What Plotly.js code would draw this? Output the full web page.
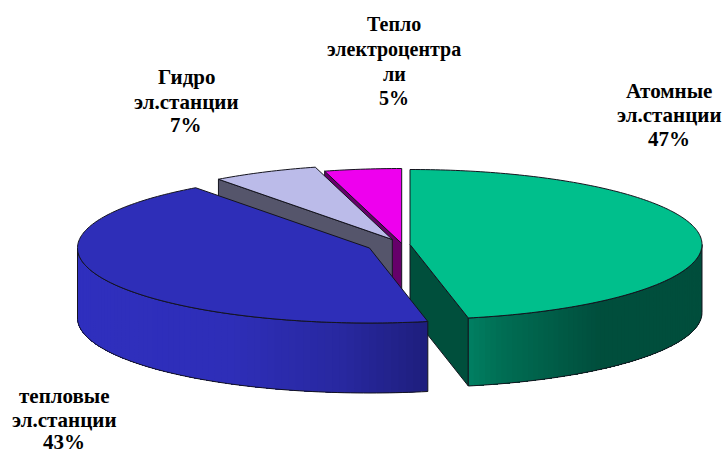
<!DOCTYPE html>
<html>
<head>
<meta charset="utf-8">
<script src="https://cdn.plot.ly/plotly-3.0.1.min.js"></script>
<style>html,body{margin:0;padding:0;background:#fff}#chart{width:724px;height:454px}</style>
</head>
<body>
<div id="chart"></div>
<script>
// Data
const categories = ["Атомные эл.станции", "тепловые эл.станции", "Гидро эл.станции", "Тепло электроцентрали"];
const sliceShares = [46.8, 43.05, 5.9, 4.25];       // drawn angle of each slice, %
const printedPercents = ["47%", "43%", "7%", "5%"]; // printed in the labels
const labelLines = [
  ["Атомные", "эл.станции"],
  ["тепловые", "эл.станции"],
  ["Гидро", "эл.станции"],
  ["Тепло", "электроцентра", "ли"]
];

// View geometry of the tilted pie (in axis units)
const RX = 292, RY = 75;
const centers = [[410, 244.5], [369.5, 248], [392.3, 239.5], [401.7, 243.5]];
const depths = [68, 70, 68, 68];
const topColors = ["#00bf8c", "#2e2eb8", "#bbbbe9", "#ee00ee"];
const wallColors = ["#004f3c", "#2e2eb8", "#55556b", "#66006a"];
const labelX = [669, 64, 186, 394];
const labelY = [[91, 115, 139], [396, 420, 442], [77, 102, 125], [24, 49, 74, 98]];
const labelSize = [21, 21, 21, 20];
const outline = "#14141e";

const rad = d => d * Math.PI / 180;
let acc = 0;
const spans = sliceShares.map(s => { const a = acc; acc += s * 3.6; return [a, acc]; });
const pt = (i, deg) => [centers[i][0] + RX * Math.sin(rad(deg)), centers[i][1] - RY * Math.cos(rad(deg))];
const traces = [];
function poly(pts, fill, lineColor, lineWidth) {
  traces.push({
    type: "scatter", mode: "lines", hoverinfo: "skip", showlegend: false,
    x: pts.map(p => p[0]), y: pts.map(p => p[1]),
    fill: fill ? "toself" : "none", fillcolor: fill || undefined,
    line: {color: lineColor || fill, width: lineWidth === undefined ? 1 : lineWidth, simplify: false}
  });
}
const down = (p, d) => [p[0], p[1] + d];
function arc(i, a, b, n) {
  const out = [];
  for (let k = 0; k <= n; k++) out.push(pt(i, a + (b - a) * k / n));
  return out;
}
function topFace(i) {
  const [a, b] = spans[i];
  const n = Math.max(12, Math.round(b - a));
  const pts = [centers[i]].concat(arc(i, a, b, n), [centers[i]]);
  poly(pts, topColors[i], outline, 1);
}
function edgeWall(i, deg) {
  const c = centers[i], e = pt(i, deg), d = depths[i];
  poly([c, e, down(e, d), down(c, d), c], wallColors[i], outline, 1);
}
function mix(stops, x) {
  for (let k = 0; k < stops.length - 1; k++) {
    const s = stops[k], t = stops[k + 1];
    if (x <= t[0]) {
      const f = Math.max(0, (x - s[0]) / (t[0] - s[0]));
      return "rgb(" + [1, 2, 3].map(j => Math.round(s[j] + (t[j] - s[j]) * f)).join(",") + ")";
    }
  }
  const l = stops[stops.length - 1];
  return "rgb(" + l[1] + "," + l[2] + "," + l[3] + ")";
}
function roundWall(i, a, b, stops) {
  const n = 70, d = depths[i];
  // each band runs to the far end of the wall, so later bands overlap earlier ones and no seams show
  for (let k = 0; k < n; k++) {
    const band = arc(i, a + (b - a) * k / n, b, n - k);
    const col = mix(stops, (band[0][0] + band[1][0]) / 2);
    poly(band.concat(band.map(p => down(p, d)).reverse(), [band[0]]), col, col, 0);
  }
  const top = arc(i, a, b, 80);
  const bottom = top.map(p => down(p, d));
  poly(top.concat(bottom.slice().reverse(), [top[0]]), null, outline, 1);
}

// Painter's order, back to front
edgeWall(3, spans[3][0]);
topFace(3);
edgeWall(2, spans[2][0]);
topFace(2);
edgeWall(0, spans[0][1]);
roundWall(0, 90, spans[0][1], [[468, 0, 128, 98], [500, 0, 110, 84], [600, 0, 78, 60], [702, 0, 78, 60]]);
topFace(0);
roundWall(1, spans[1][0], 270, [[77, 47, 47, 190], [230, 46, 46, 184], [340, 40, 40, 160], [427, 30, 30, 125]]);
topFace(1);

const annotations = [];
categories.forEach((c, i) => {
  labelLines[i].concat(printedPercents[i]).forEach((line, j) => {
    annotations.push({
      x: labelX[i], y: labelY[i][j], xref: "x", yref: "y",
      xanchor: "center", yanchor: "middle", showarrow: false, borderpad: 0,
      text: "<b>" + line + "</b>",
      font: {family: "Liberation Serif, serif", size: labelSize[i], color: "#000"}
    });
  });
});

Plotly.newPlot("chart", traces, {
  width: 724, height: 454,
  margin: {l: 0, r: 0, t: 0, b: 0},
  paper_bgcolor: "#fff", plot_bgcolor: "#fff", showlegend: false,
  xaxis: {range: [0, 724], visible: false, fixedrange: true},
  yaxis: {range: [454, 0], visible: false, fixedrange: true},
  annotations: annotations
}, {displayModeBar: false, staticPlot: true});
</script>
</body>
</html>
